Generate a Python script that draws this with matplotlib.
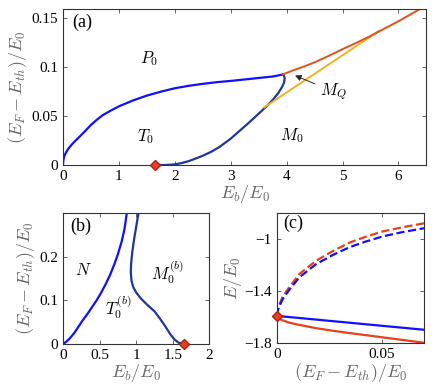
import numpy as np
import matplotlib.pyplot as plt

plt.rcParams['font.family'] = ['Liberation Serif', 'DejaVu Serif']
plt.rcParams['mathtext.fontset'] = 'cm'

# ---- panel (a) data ----
blue_a_x = [0, 0.005, 0.015, 0.03, 0.06, 0.1, 0.15, 0.22, 0.3, 0.4, 0.5, 0.6, 0.71, 0.85, 1.0,
            1.25, 1.5, 1.75, 2.0, 2.25, 2.5, 2.75, 3.0, 3.25, 3.5, 3.75, 3.93]
blue_a_y = [0, 0.004, 0.0075, 0.0100, 0.0135, 0.0170, 0.0205, 0.0248, 0.0292, 0.035, 0.041,
            0.046, 0.051, 0.0555, 0.060, 0.066, 0.071, 0.075, 0.0785, 0.081, 0.083, 0.0847,
            0.086, 0.0875, 0.089, 0.0905, 0.0925]
navy_a_x = [1.65, 1.8, 1.9, 2.0, 2.1, 2.25, 2.4, 2.5, 2.65, 2.8, 3.0, 3.15, 3.3, 3.5, 3.64,
            3.75, 3.85, 3.92, 3.955, 3.965, 3.955, 3.93]
navy_a_y = [0, 0, 0.0002, 0.0007, 0.0017, 0.004, 0.0072, 0.0095, 0.0135, 0.0185, 0.027,
            0.0345, 0.042, 0.0525, 0.060, 0.0665, 0.0735, 0.080, 0.0845, 0.0885, 0.091, 0.0925]
orange_a_x = [3.93, 4.1, 4.3, 4.5, 4.75, 5.0, 5.25, 5.5, 5.75, 6.0, 6.2, 6.4]
orange_a_y = [0.0925, 0.0965, 0.1005, 0.105, 0.1115, 0.1185, 0.125, 0.132, 0.1395, 0.147,
              0.1535, 0.16]
yellow_a_x = [3.6, 5.65]
yellow_a_y = [0.059, 0.137]
dot_a = (1.65, 0)

# ---- panel (b) data ----
blue_b_x = [0, 0.04, 0.09, 0.15, 0.21, 0.27, 0.34, 0.40, 0.46, 0.52, 0.58, 0.64, 0.70, 0.75,
            0.80, 0.84, 0.87]
blue_b_y = [0, 0.005, 0.013, 0.025, 0.040, 0.055, 0.071, 0.086, 0.101, 0.118, 0.137, 0.158,
            0.183, 0.207, 0.235, 0.265, 0.30]
navy_b_x = [1.03, 1.0, 0.97, 0.945, 0.93, 0.925, 0.935, 0.96, 1.0, 1.06, 1.15, 1.25, 1.33,
            1.4, 1.46, 1.52, 1.58, 1.66]
navy_b_y = [0.30, 0.27, 0.24, 0.21, 0.185, 0.165, 0.145, 0.13, 0.118, 0.105, 0.09, 0.075,
            0.057, 0.04, 0.024, 0.011, 0.003, 0]
dot_b = (1.66, 0)

# ---- panel (c) data ----
c_x = [0, 0.0003, 0.0011, 0.0027, 0.0059, 0.0107, 0.0186, 0.0266, 0.0346, 0.0425, 0.0505,
       0.060, 0.0704]
red_dash = [-1.59, -1.55, -1.508, -1.445, -1.37, -1.269, -1.168, -1.093, -1.028, -0.982,
            -0.942, -0.91, -0.879]
blue_dash = [-1.59, -1.555, -1.52, -1.463, -1.39, -1.294, -1.194, -1.123, -1.063, -1.019,
             -0.98, -0.947, -0.917]
red_solid = [-1.59, -1.60, -1.611, -1.624, -1.642, -1.659, -1.684, -1.704, -1.722, -1.738,
             -1.755, -1.775, -1.797]
blue_solid_x = [0, 0.0704]
blue_solid_y = [-1.59, -1.697]
dot_c = (0, -1.59)

c_blue = '#1010ff'
c_navy = '#1f3799'
c_orange = '#e0521c'
c_yellow = '#f0b020'
c_red = '#e8401c'
lab_col = '0.4'

fig = plt.figure(figsize=(4.36, 3.89), dpi=100)
ax_a = fig.add_axes([0.1445, 0.5758, 0.8335, 0.4022])
ax_b = fig.add_axes([0.145, 0.1157, 0.335, 0.336])
ax_c = fig.add_axes([0.635, 0.1175, 0.338, 0.3355])

for ax in (ax_a, ax_b, ax_c):
    ax.tick_params(direction='in', top=True, right=True, labelsize=11,
                   length=3, width=0.6, color='0.3')
    for s in ax.spines.values():
        s.set_linewidth(0.8)
        s.set_color('0.2')

# (a)
ax_a.plot(blue_a_x, blue_a_y, color=c_blue, lw=1.6)
ax_a.plot(navy_a_x, navy_a_y, color=c_navy, lw=1.6)
ax_a.plot(yellow_a_x, yellow_a_y, color=c_yellow, lw=1.4)
ax_a.plot(orange_a_x, orange_a_y, color=c_orange, lw=1.4)
ax_a.plot(*dot_a, 'D', color=c_red, mec='#b02010', ms=5.5, clip_on=False, zorder=5)
ax_a.annotate('$M_Q$', xy=(4.15, 0.0915), xytext=(4.6, 0.075), fontsize=12,
              va='center', ha='left',
              arrowprops=dict(arrowstyle='-|>', color='0.15', lw=0.7,
                              mutation_scale=9, shrinkA=2, shrinkB=0))
ax_a.text(0.16, 0.146, '(a)', fontsize=13, va='center')
ax_a.text(1.54, 0.109, '$P_0$', fontsize=12, ha='center', va='center')
ax_a.text(1.48, 0.029, '$T_0$', fontsize=12, ha='center', va='center')
ax_a.text(4.1, 0.03, '$M_0$', fontsize=12, ha='center', va='center')
ax_a.set_xlim(0, 6.5)
ax_a.set_ylim(0, 0.16)
ax_a.set_xticks([0, 1, 2, 3, 4, 5, 6])
ax_a.set_yticks([0, 0.05, 0.1, 0.15])
ax_a.set_yticklabels(['0', '0.05', '0.1', '0.15'])
ax_a.set_xlabel('$E_b/E_0$', fontsize=13, color=lab_col, labelpad=0)
ax_a.set_ylabel('$(E_F - E_{th})/E_0$', fontsize=13, color=lab_col, labelpad=2)

# (b)
ax_b.plot(blue_b_x, blue_b_y, color=c_blue, lw=1.6)
ax_b.plot(navy_b_x, navy_b_y, color=c_navy, lw=1.6)
ax_b.plot(*dot_b, 'D', color=c_red, mec='#b02010', ms=5.5, clip_on=False, zorder=5)
ax_b.text(0.09, 0.27, '(b)', fontsize=13, va='center')
ax_b.text(0.27, 0.168, '$N$', fontsize=12, ha='center', va='center')
ax_b.text(1.43, 0.164, '$M_0^{(b)}$', fontsize=12, ha='center', va='center')
ax_b.text(0.75, 0.085, '$T_0^{(b)}$', fontsize=12, ha='center', va='center')
ax_b.set_xlim(0, 2)
ax_b.set_ylim(0, 0.3)
ax_b.set_xticks([0, 0.5, 1, 1.5, 2])
ax_b.set_xticklabels(['0', '0.5', '1', '1.5', '2'])
ax_b.set_yticks([0, 0.1, 0.2])
ax_b.set_yticklabels(['0', '0.1', '0.2'])
ax_b.set_xlabel('$E_b/E_0$', fontsize=13, color=lab_col, labelpad=0)
ax_b.set_ylabel('$(E_F - E_{th})/E_0$', fontsize=13, color=lab_col, labelpad=2)

# (c)
ax_c.plot(c_x, red_dash, '--', color=c_red, lw=1.6)
ax_c.plot(c_x, blue_dash, '--', color=c_blue, lw=1.6)
ax_c.plot(c_x, red_solid, color=c_red, lw=1.6)
ax_c.plot(blue_solid_x, blue_solid_y, color=c_blue, lw=1.6)
ax_c.plot(*dot_c, 'D', color=c_red, mec='#b02010', ms=5.5, clip_on=False, zorder=5)
ax_c.text(0.003, -0.88, '(c)', fontsize=13, va='center')
ax_c.set_xlim(0, 0.07)
ax_c.set_ylim(-1.8, -0.8)
ax_c.set_xticks([0, 0.05])
ax_c.set_xticklabels(['0', '0.05'])
ax_c.set_yticks([-1.8, -1.4, -1])
ax_c.set_yticklabels(['\u22121.8', '\u22121.4', '\u22121'])
ax_c.set_xlabel('$(E_F - E_{th})/E_0$', fontsize=13, color=lab_col, labelpad=0)
ax_c.set_ylabel('$E/E_0$', fontsize=13, color=lab_col, labelpad=0)

fig.savefig('out.png', dpi=100)
